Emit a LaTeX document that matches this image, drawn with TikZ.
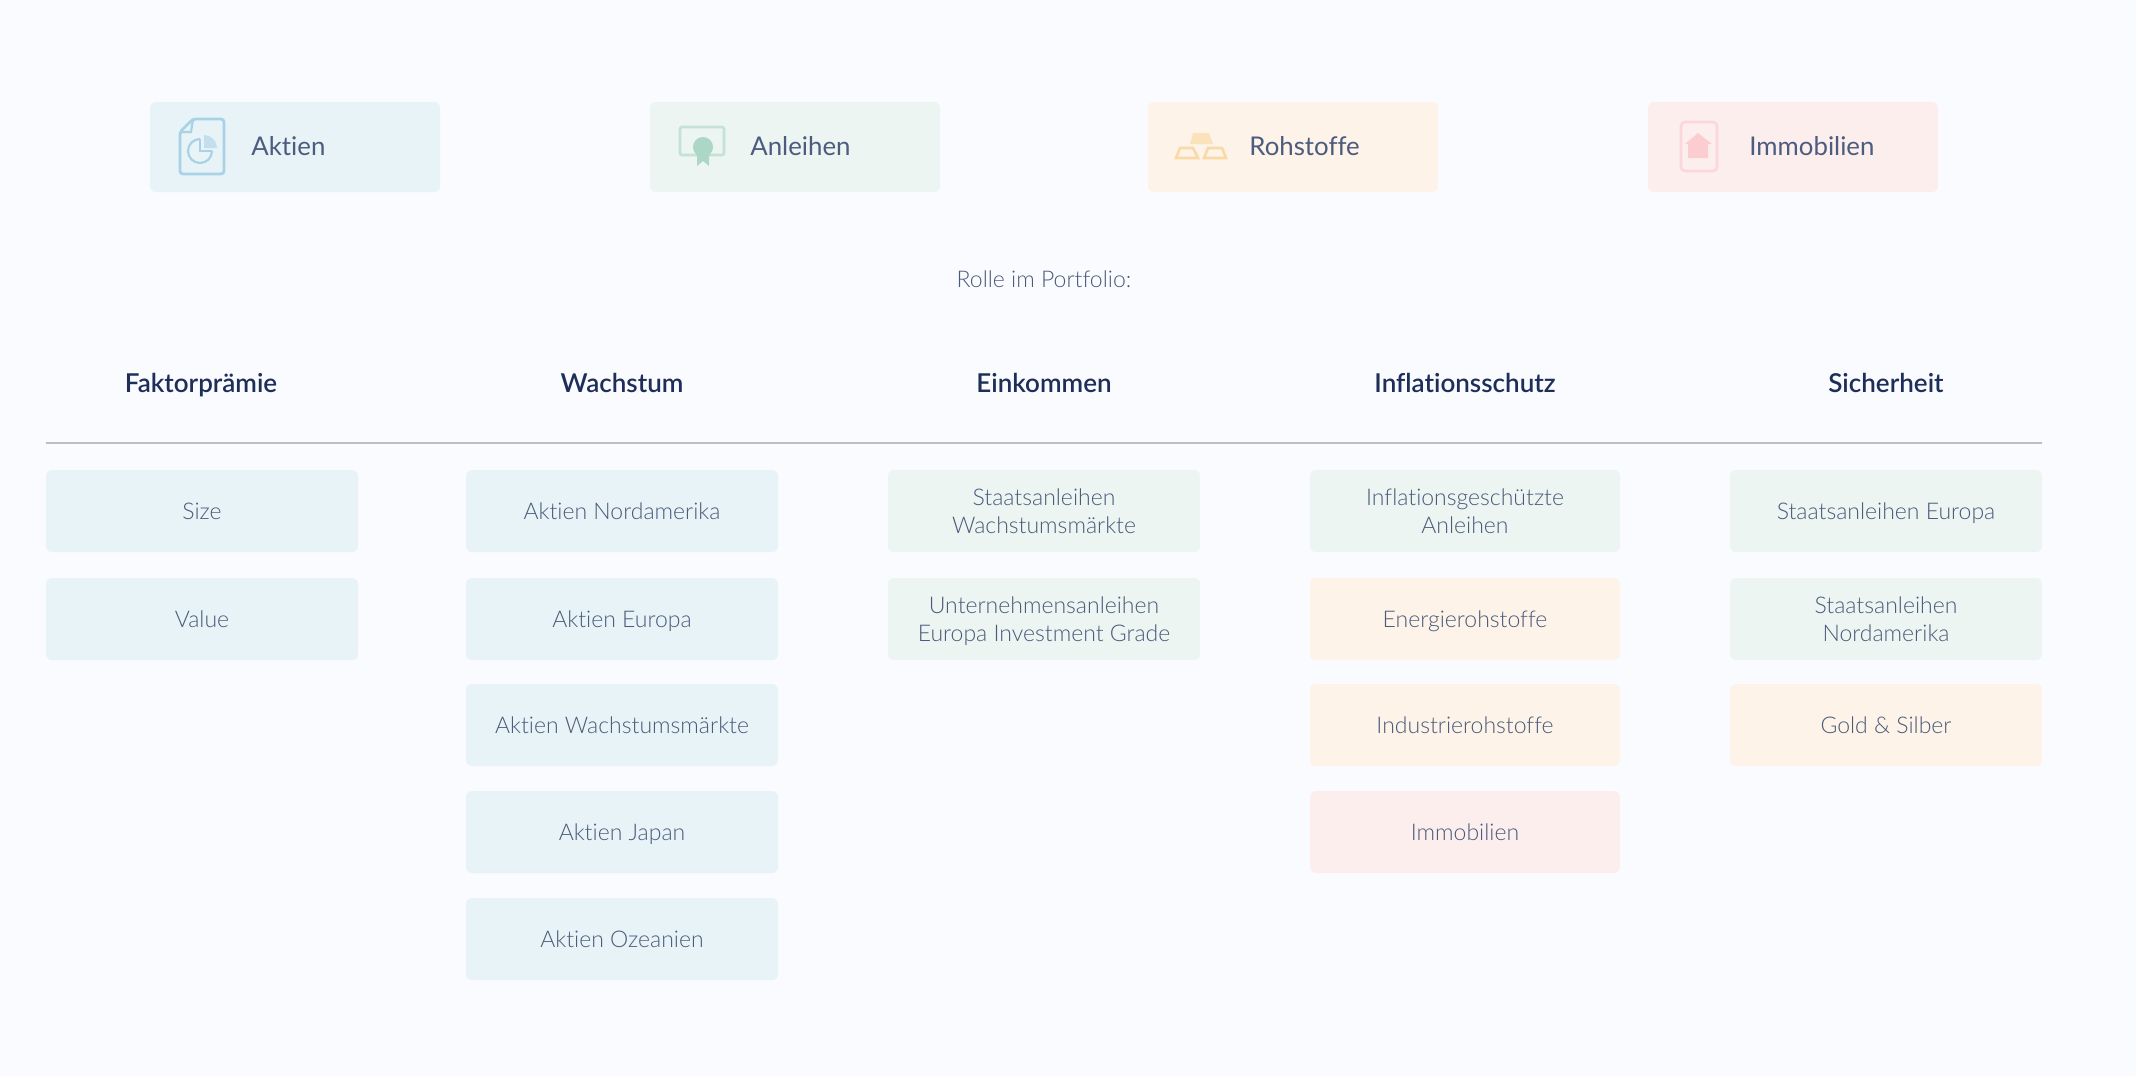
\documentclass[tikz,border=0pt]{standalone}
\usepackage{fontspec}
\setmainfont{Lato Light}[BoldFont=Lato Semibold,Ligatures=NoCommon]
\newfontfamily\legfont{Lato}[Ligatures=NoCommon]
\newcommand\cellstrut{\rule[-2.85pt]{0pt}{14pt}}
\definecolor{bgcol}{HTML}{FAFBFF}
\definecolor{bluecell}{HTML}{E8F3F7}
\definecolor{greencell}{HTML}{ECF5F1}
\definecolor{orangecell}{HTML}{FDF3E8}
\definecolor{pinkcell}{HTML}{FDEEEE}
\definecolor{blueicon}{HTML}{A9D2E6}
\definecolor{greenicon}{HTML}{ACD6C5}
\definecolor{orangeicon}{HTML}{F9D9A6}
\definecolor{pinkicon}{HTML}{FBCDD0}
\definecolor{celltext}{HTML}{4A5A7A}
\definecolor{legtext}{HTML}{4C5C7E}
\definecolor{headtext}{HTML}{1D2E58}
\definecolor{rulecol}{HTML}{BCBDC7}
\tikzset{
  legendbox/.style={minimum width=145pt,minimum height=45pt,rounded corners=3pt,inner sep=0pt},
  legendtext/.style={anchor=base west,inner sep=0pt,text=legtext,font=\legfont\fontsize{12.9}{15}\selectfont},
  cell/.style={minimum width=156pt,minimum height=41pt,rounded corners=3pt,inner sep=0pt,align=center,
    text=celltext,font=\fontsize{11.5}{14}\selectfont},
  oneline/.style={cell,execute at begin node=\cellstrut},
  twoline/.style={cell,text height=25pt,text depth=2.7pt},
  head/.style={anchor=base,inner sep=0pt,text=headtext,font=\fontsize{13}{15}\selectfont\bfseries},
}
\begin{document}
\begin{tikzpicture}[x=0.5pt,y=-0.5pt]
\useasboundingbox (0,0) rectangle (2136,1076);
\fill[bgcol] (0,0) rectangle (2136,1076);

% Legend
\node[legendbox,fill=bluecell] (legA) at (295,147) {};
\node[legendbox,fill=greencell] (legB) at (795,147) {};
\node[legendbox,fill=orangecell] (legC) at (1293,147) {};
\node[legendbox,fill=pinkcell] (legD) at (1793,147) {};
\node[legendtext] (txtA) at (251,155) {Aktien};
\node[legendtext] (txtB) at (750,155) {Anleihen};
\node[legendtext] (txtC) at (1249,155) {Rohstoffe};
\node[legendtext] (txtD) at (1749,155) {Immobilien};

% Icon Aktien
\draw[blueicon,line width=1.4pt,rounded corners=1.5pt] (193,119) -- (224,119) -- (224,174) -- (180,174) -- (180,132) -- cycle;
\draw[blueicon,line width=1.1pt] (180,132) -- (191,132) -- (193,119);
\draw[blueicon,line width=1.1pt] (200,139) arc (-90:-360:12);
\draw[blueicon,line width=1.1pt] (200,139) -- (200,151) -- (212,151);
\fill[blueicon!70] (204,135) arc (-90:0:13) -- (204,148) -- cycle;

% Icon Anleihen
\draw[greenicon!70,line width=1.3pt,rounded corners=1pt] (680,127) rectangle (724,155);
\fill[greenicon] (697,153) -- (697,166) -- (703,161) -- (709,166) -- (709,153) -- cycle;
\fill[greenicon] (703,147) circle (5pt);

% Icon Rohstoffe
\fill[orangeicon!75] (1193,133) -- (1209,133) -- (1213,144) -- (1190,144) -- cycle;
\draw[orangeicon,line width=1.3pt] (1180,148) -- (1193,148) -- (1198,158) -- (1176,158) -- cycle;
\draw[orangeicon,line width=1.3pt] (1208,148) -- (1222,148) -- (1226,158) -- (1204,158) -- cycle;

% Icon Immobilien
\draw[pinkicon!80,line width=1.3pt,rounded corners=2pt] (1681,122) rectangle (1717,171);
\fill[pinkicon] (1698,133) -- (1712,144) -- (1708,144) -- (1708,158) -- (1688,158) -- (1688,144) -- (1685,144) -- cycle;

% Title
\node[inner sep=0pt,text=celltext,font=\fontsize{11.5}{14}\selectfont] (title) at (1044,279) {Rolle im Portfolio:};

% Headers
\node[head] (h1) at (201,392) {Faktorprämie};
\node[head] (h2) at (622,392) {Wachstum};
\node[head] (h3) at (1044,392) {Einkommen};
\node[head] (h4) at (1465,392) {Inflationsschutz};
\node[head] (h5) at (1886,392) {Sicherheit};

% Rule
\coordinate (ruleL) at (46,443);
\coordinate (ruleR) at (2042,443);
\draw[rulecol,line width=0.75pt] (ruleL) -- (ruleR);

% Faktorpraemie
\node[oneline,fill=bluecell] (f1) at (202,511) {Size};
\node[oneline,fill=bluecell] (f2) at (202,619) {Value};

% Wachstum
\node[oneline,fill=bluecell] (w1) at (622,511) {Aktien Nordamerika};
\node[oneline,fill=bluecell] (w2) at (622,619) {Aktien Europa};
\node[oneline,fill=bluecell] (w3) at (622,725) {Aktien Wachstumsmärkte};
\node[oneline,fill=bluecell] (w4) at (622,832) {Aktien Japan};
\node[oneline,fill=bluecell] (w5) at (622,939) {Aktien Ozeanien};

% Einkommen
\node[twoline,fill=greencell] (e1) at (1044,511) {Staatsanleihen\\Wachstumsmärkte};
\node[twoline,fill=greencell] (e2) at (1044,619) {Unternehmensanleihen\\Europa Investment Grade};

% Inflationsschutz
\node[twoline,fill=greencell,minimum width=155pt] (i1) at (1465,511) {Inflationsgeschützte\\Anleihen};
\node[oneline,fill=orangecell,minimum width=155pt] (i2) at (1465,619) {Energierohstoffe};
\node[oneline,fill=orangecell,minimum width=155pt] (i3) at (1465,725) {Industrierohstoffe};
\node[oneline,fill=pinkcell,minimum width=155pt] (i4) at (1465,832) {Immobilien};

% Sicherheit
\node[oneline,fill=greencell] (s1) at (1886,511) {Staatsanleihen Europa};
\node[twoline,fill=greencell] (s2) at (1886,619) {Staatsanleihen\\Nordamerika};
\node[oneline,fill=orangecell] (s3) at (1886,725) {Gold \& Silber};
\end{tikzpicture}
\end{document}
